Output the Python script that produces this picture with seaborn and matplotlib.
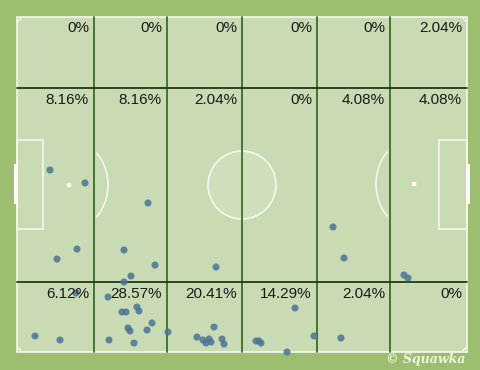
import matplotlib
matplotlib.use('Agg')
import matplotlib.pyplot as plt
from matplotlib import patches
import seaborn as sns
import pandas as pd

# shot positions (pixel frame of the 481x370 image)
shot_x = [50, 85, 148, 77, 57, 124, 155, 131, 216, 333, 344, 404, 408,
          76, 124, 108, 122, 126, 137, 139, 128, 130, 152, 147, 168, 35, 60, 109, 134,
          214, 197, 203, 206, 209, 211, 222, 224,
          256, 259, 261, 287, 295, 314, 341]
shot_y = [170, 183, 203, 249, 259, 250, 265, 276, 267, 227, 258, 275, 278,
          293, 282, 297, 312, 312, 307, 311, 328, 331, 323, 330, 332, 336, 340, 340, 343,
          327, 337, 340, 343, 339, 342, 339, 344,
          341, 341, 343, 352, 308, 336, 338]

# zone percentages, one list per band (top, middle, bottom), left to right
pct_top = ['0%', '0%', '0%', '0%', '0%', '2.04%']
pct_mid = ['8.16%', '8.16%', '2.04%', '0%', '4.08%', '4.08%']
pct_bot = ['6.12%', '28.57%', '20.41%', '14.29%', '2.04%', '0%']

# zone edges
col_edges = [17, 94, 167, 242, 317, 390, 467]
row_edges = [17, 88, 282, 352]

border = '#9dbe6e'
grass = '#c9dbb3'
line_w = '#f4f8ee'

sns.set_theme(style='white')
plt.rcParams['font.family'] = ['Liberation Sans', 'DejaVu Sans']

fig = plt.figure(figsize=(4.81, 3.70), dpi=100, facecolor=border)
ax = fig.add_axes([0, 0, 1, 1])
ax.set_xlim(0, 481)
ax.set_ylim(370, 0)
ax.axis('off')

# pitch
ax.add_patch(patches.Rectangle((17, 17), 450, 335, facecolor=grass, edgecolor=line_w, lw=1.2, zorder=1))
ax.add_patch(patches.Rectangle((17, 140), 26, 89, fill=False, edgecolor=line_w, lw=1.2, zorder=2))
ax.add_patch(patches.Rectangle((439, 140), 28, 89, fill=False, edgecolor=line_w, lw=1.2, zorder=2))
ax.add_patch(patches.Rectangle((14, 164), 4, 40, facecolor='white', edgecolor='none', zorder=2))
ax.add_patch(patches.Rectangle((466, 164), 4, 40, facecolor='white', edgecolor='none', zorder=2))
ax.add_patch(patches.Arc((69, 185), 78, 90, theta1=-50, theta2=50, color=line_w, lw=1.2, zorder=2))
ax.add_patch(patches.Arc((414, 184), 76, 90, theta1=129, theta2=231, color=line_w, lw=1.2, zorder=2))
ax.add_patch(patches.Circle((69, 185), 1.6, color='white', zorder=2))
ax.add_patch(patches.Circle((414, 184), 1.6, color='white', zorder=2))
ax.add_patch(patches.Circle((242, 185), 34, facecolor='white', alpha=0.12, edgecolor='none', zorder=2))
ax.add_patch(patches.Circle((242, 185), 34, fill=False, edgecolor=line_w, lw=1.2, zorder=2))
for cx, cy, t1, t2 in [(17, 17, 0, 90), (467, 17, 90, 180), (17, 352, 270, 360), (467, 352, 180, 270)]:
    ax.add_patch(patches.Arc((cx, cy), 8, 8, theta1=t1, theta2=t2, color=line_w, lw=1, zorder=2))

# zone grid
for x in col_edges[1:-1]:
    ax.plot([x, x], [row_edges[0], row_edges[-1]], color='#3d6b2c', lw=1.3, zorder=3)
for y in row_edges[1:-1]:
    ax.plot([col_edges[0], col_edges[-1]], [y, y], color='#1f3a14', lw=1.3, zorder=3)

# shots
shots = pd.DataFrame({'x': shot_x, 'y': shot_y})
sns.scatterplot(data=shots, x='x', y='y', ax=ax, color='#4a7499', alpha=0.85,
                s=26, edgecolor='none', zorder=4, legend=False)
ax.set_xlim(0, 481)
ax.set_ylim(370, 0)
ax.axis('off')

# zone labels
for r, row in enumerate([pct_top, pct_mid, pct_bot]):
    for c, label in enumerate(row):
        ax.text(col_edges[c + 1] - 5, row_edges[r] + 4.5, label, ha='right', va='top',
                fontsize=11, color='#1a1a1a', zorder=5)

ax.text(465, 360, '\u00a9 Squawka', ha='right', va='center', fontsize=9,
        style='italic', weight='bold', family='DejaVu Serif', color='#eef4e2', zorder=5)

fig.savefig('out.png', dpi=100, facecolor=border)
